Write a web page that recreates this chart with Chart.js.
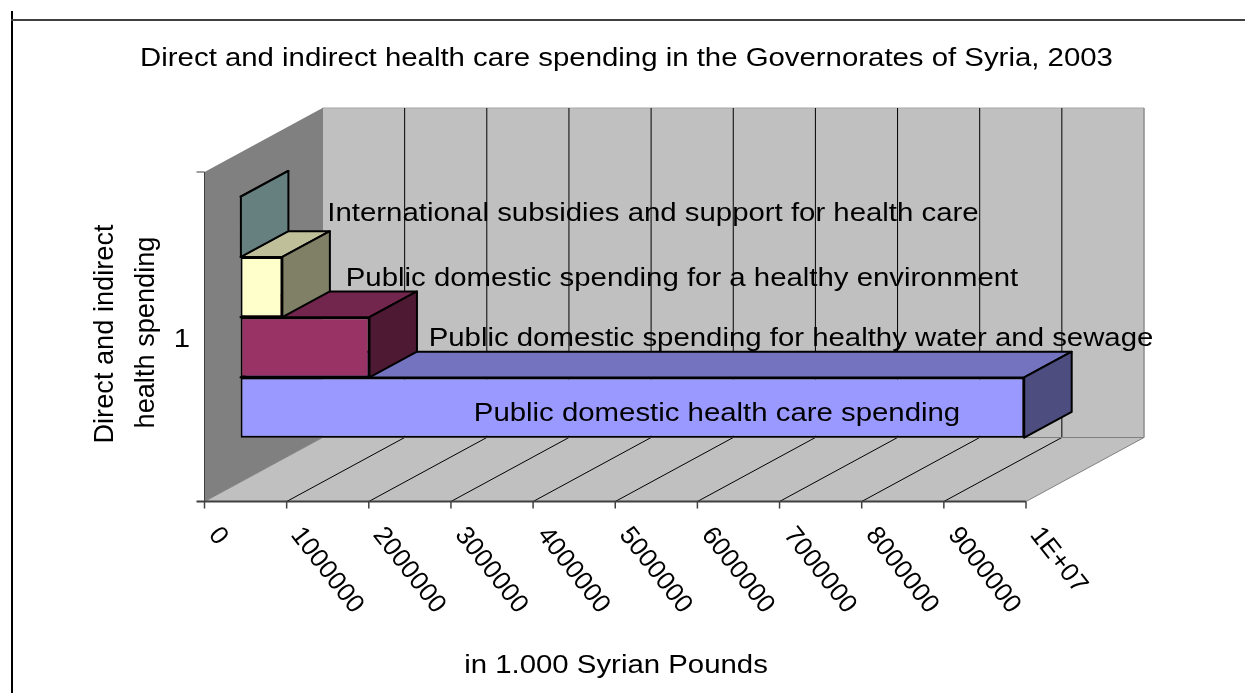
<!DOCTYPE html>
<html>
<head>
<meta charset="utf-8">
<title>Health care spending, Syria 2003</title>
<script src="https://cdn.jsdelivr.net/npm/chart.js@4/dist/chart.umd.js"></script>
<style>
    html, body { margin: 0; padding: 0; background: #fff; }
    canvas { display: block; }
</style>
</head>
<body>
<canvas id="spendingChart" width="1245" height="693"></canvas>
<script>
var chartTitle = 'Direct and indirect health care spending in the Governorates of Syria, 2003';
var xAxisTitle = 'in 1.000 Syrian Pounds';
var yAxisTitle = ['Direct and indirect', 'health spending'];
var categories = ['1'];
var tickLabels = ['0', '1000000', '2000000', '3000000', '4000000', '5000000', '6000000', '7000000', '8000000', '9000000', '1E+07'];

var seriesNames = [
    'International subsidies and support for health care',
    'Public domestic spending for a healthy environment',
    'Public domestic spending for healthy water and sewage',
    'Public domestic health care spending'
];
var internationalSupport = [5000];
var healthyEnvironment = [510000];
var waterAndSewage = [1570000];
var healthCare = [9540000];

// front, top and side colours of each bar
var frontColors = ['#CCFFFF', '#FFFFCC', '#993366', '#9999FF'];
var topColors = ['#99BFBF', '#BFBF99', '#73264D', '#7373BF'];
var sideColors = ['#668080', '#808066', '#4D1933', '#4D4D80'];

// label anchors: centre x and middle y
var labelX = [653, 682, 791, 717];
var labelY = [214, 279, 339, 414];

var FONT = '"Liberation Sans", Arial, sans-serif';
var FLAT_TEXT = { size: 26.5, stretch: 1.108 };
var TICK_TEXT = { size: 26, stretch: 1 };
var SIDE_TEXT = { size: 27.2, stretch: 1 };
var WALL_DX = 118, WALL_DY = -64;   // depth of the box
var BAR_SHIFT = 0.305;              // bars stand this far back in the box
var BAR_DEPTH = 0.4025;             // and are this deep

function poly(ctx, pts, fill, stroke, width) {
    ctx.beginPath();
    ctx.moveTo(pts[0][0], pts[0][1]);
    for (var i = 1; i < pts.length; i++) ctx.lineTo(pts[i][0], pts[i][1]);
    ctx.closePath();
    if (fill) { ctx.fillStyle = fill; ctx.fill(); }
    if (stroke) { ctx.strokeStyle = stroke; ctx.lineWidth = width || 1; ctx.stroke(); }
}

function line(ctx, x1, y1, x2, y2, color, width) {
    ctx.beginPath();
    ctx.moveTo(x1, y1);
    ctx.lineTo(x2, y2);
    ctx.strokeStyle = color;
    ctx.lineWidth = width || 1;
    ctx.stroke();
}

function text(ctx, str, x, y, style, align, angle) {
    ctx.save();
    ctx.translate(x, y);
    ctx.rotate((angle || 0) * Math.PI / 180);
    ctx.scale(style.stretch, 1);
    ctx.font = style.size + 'px ' + FONT;
    ctx.fillStyle = '#000';
    ctx.textAlign = align || 'center';
    ctx.textBaseline = 'middle';
    ctx.fillText(str, 0, 0);
    ctx.restore();
}

// walls, floor, gridlines and axis furniture
var boxPlugin = {
    id: 'box',
    beforeDatasetsDraw: function(chart) {
        var ctx = chart.ctx, a = chart.chartArea, xs = chart.scales.x;
        var l = a.left, r = a.right, t = a.top, b = a.bottom;
        ctx.save();

        // page frame
        line(ctx, 12, 11, 12, 693, '#000', 2);
        line(ctx, 11, 20, 1245, 20, '#404040', 2);

        poly(ctx, [[l, t], [l + WALL_DX, t + WALL_DY], [l + WALL_DX, b + WALL_DY], [l, b]], '#808080');
        poly(ctx, [[l + WALL_DX, t + WALL_DY], [r + WALL_DX, t + WALL_DY], [r + WALL_DX, b + WALL_DY], [l + WALL_DX, b + WALL_DY]], '#C0C0C0', '#A6A6A6', 1);
        poly(ctx, [[l, b], [r, b], [r + WALL_DX, b + WALL_DY], [l + WALL_DX, b + WALL_DY]], '#C0C0C0');

        xs.ticks.forEach(function(tick, i) {
            var x = xs.getPixelForValue(tick.value);
            var inner = i > 0 && i < xs.ticks.length - 1;
            var color = inner ? '#000' : '#808080';
            line(ctx, x, b, x + WALL_DX, b + WALL_DY, color, 1);
            line(ctx, x + WALL_DX, b + WALL_DY, x + WALL_DX, t + WALL_DY, color, 1);
            line(ctx, x, b, x, b + 7, '#404040', 1.5);
        });
        line(ctx, l + WALL_DX, b + WALL_DY, r + WALL_DX, b + WALL_DY, '#808080', 1);
        line(ctx, l + WALL_DX, t + WALL_DY, l + WALL_DX, b + WALL_DY, '#808080', 1);
        line(ctx, l, t, l, b, '#404040', 1);
        line(ctx, l - 8, b, r, b, '#404040', 2);
        line(ctx, l - 8, t, l, t, '#404040', 1);
        ctx.restore();
    },
    // every bar is pushed back into the box, with its top and side drawn first
    beforeDatasetDraw: function(chart, args) {
        var ctx = chart.ctx;
        var bar = args.meta.data[0];
        var dx = WALL_DX * BAR_DEPTH, dy = WALL_DY * BAR_DEPTH;
        var x0 = bar.base, x1 = bar.x, top = bar.y - bar.height / 2, bottom = bar.y + bar.height / 2;
        ctx.save();
        ctx.translate(WALL_DX * BAR_SHIFT, WALL_DY * BAR_SHIFT);
        ctx.lineJoin = 'round';
        poly(ctx, [[x0, top], [x0 + dx, top + dy], [x1 + dx, top + dy], [x1, top]], topColors[args.index], '#000', 2);
        poly(ctx, [[x1, top], [x1 + dx, top + dy], [x1 + dx, bottom + dy], [x1, bottom]], sideColors[args.index], '#000', 2);
    },
    afterDatasetDraw: function(chart) {
        chart.ctx.restore();
    },
    afterDatasetsDraw: function(chart) {
        var ctx = chart.ctx, a = chart.chartArea, xs = chart.scales.x;
        text(ctx, chartTitle, 626.5, 59, FLAT_TEXT);
        seriesNames.forEach(function(name, i) {
            text(ctx, name, labelX[i], labelY[i], FLAT_TEXT);
        });
        text(ctx, xAxisTitle, 616, 666, FLAT_TEXT);
        text(ctx, categories[0], 182, 340, FLAT_TEXT);

        xs.ticks.forEach(function(tick) {
            text(ctx, tick.label, xs.getPixelForValue(tick.value) + 9, a.bottom + 29, TICK_TEXT, 'left', 52);
        });

        text(ctx, yAxisTitle[0], 106, 334, SIDE_TEXT, 'center', -90);
        text(ctx, yAxisTitle[1], 147, 332.5, SIDE_TEXT, 'center', -90);
    }
};

var series = [internationalSupport, healthyEnvironment, waterAndSewage, healthCare];

new Chart(document.getElementById('spendingChart').getContext('2d'), {
    type: 'bar',
    plugins: [boxPlugin],
    data: {
        labels: categories,
        datasets: series.map(function(values, i) {
            return {
                label: seriesNames[i],
                data: values,
                backgroundColor: frontColors[i],
                borderColor: '#000',
                borderWidth: 2,
                borderSkipped: false,
                categoryPercentage: 0.7314,
                barPercentage: 1
            };
        })
    },
    options: {
        indexAxis: 'y',
        responsive: false,
        animation: false,
        layout: { padding: { left: 204.5, right: 219, top: 172, bottom: 191.5 } },
        plugins: { legend: { display: false }, title: { display: false }, tooltip: { enabled: false } },
        scales: {
            x: {
                min: 0,
                max: 10000000,
                grid: { display: false, drawTicks: false, tickLength: 0 },
                border: { display: false },
                ticks: {
                    display: false,
                    stepSize: 1000000,
                    autoSkip: false,
                    callback: function(value, index) { return tickLabels[index]; }
                }
            },
            y: {
                grid: { display: false, drawTicks: false, tickLength: 0 },
                border: { display: false },
                ticks: { display: false }
            }
        }
    }
});
</script>
</body>
</html>
